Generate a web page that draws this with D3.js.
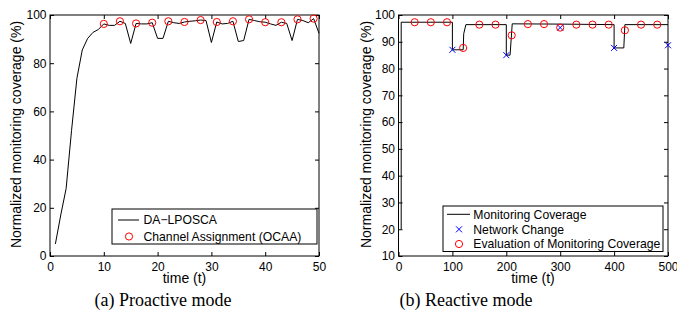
<!DOCTYPE html>
<meta charset="utf-8">
<title>Monitoring coverage</title>
<style>
body { margin: 0; background: #fff; }
svg { display: block; }
.tick text { font: 12px "Liberation Sans", Arial, sans-serif; fill: #000; }
.lbl { font: 14px "Liberation Sans", Arial, sans-serif; fill: #000; }
.leg { font: 12.2px "Liberation Sans", Arial, sans-serif; fill: #000; }
.cap { font: 18px "Liberation Serif", "Times New Roman", serif; fill: #000; }
</style>
<svg width="677" height="325"></svg>
<script src="https://cdnjs.cloudflare.com/ajax/libs/d3/7.8.5/d3.min.js"></script>
<script>

// (a) proactive mode: DA-LPOSCA curve, one value per time step 1..50
var proTime = d3.range(1, 51);
var proValue = [5, 17, 28, 52, 73.7, 85.5, 90.3, 92.8, 94, 96.3,
  95.7, 95.7, 97.4, 96.5, 88.2, 96.5, 96.3, 96.3, 96.8, 90.3,
  90.3, 97.4, 96.8, 96.5, 97.1, 97.4, 97.6, 97.9, 97.7, 88.6,
  97.1, 96.3, 96.5, 97.4, 89, 89.4, 98.2, 97.7, 97.2, 97,
  96.3, 95.7, 97, 96.5, 89.4, 98.2, 97.7, 96.8, 98.5, 92.4];
// time steps where the OCAA channel assignment is marked
var ocaaTime = [10, 13, 16, 19, 22, 25, 28, 31, 34, 37, 40, 43, 46, 49];

// (b) reactive mode
var reTime  = [5, 5, 100, 100, 120, 121, 125, 200, 200, 207, 211, 300, 400, 400, 418, 420, 500];
var reValue = [20, 97.3, 97.3, 87, 87, 93, 96.4, 96.4, 85, 85, 96.7, 96.6, 96.4, 87.7, 87.7, 96.4, 96.4];
var changeTime  = [100, 200, 300, 400, 500];
var changeValue = [87, 85, 95.3, 87.7, 88.7];
var evalTime  = [30, 60, 90, 120, 150, 180, 210, 240, 270, 300, 330, 360, 390, 420, 450, 480];
var evalValue = [97.3, 97.3, 97.3, 87.7, 96.4, 96.4, 92.4, 96.6, 96.6, 95.3, 96.4, 96.4, 96.4, 94.3, 96.4, 96.4];

var svg = d3.select("svg");
var plotTop = 15, plotBottom = 256;

// draws the box, inward ticks on all four sides and the labels
function frame(x, y, xt, yt) {
  var g = svg.append("g");
  var x0 = x.range()[0], x1 = x.range()[1];
  g.append("g").attr("transform", "translate(0," + plotBottom + ")")
    .call(d3.axisBottom(x).tickValues(xt).tickSize(-4).tickPadding(6));
  g.append("g").attr("transform", "translate(0," + plotTop + ")")
    .call(d3.axisTop(x).tickValues(xt).tickSize(-4).tickFormat(""));
  g.append("g").attr("transform", "translate(" + x0 + ",0)")
    .call(d3.axisLeft(y).tickValues(yt).tickSize(-4).tickPadding(3.5));
  g.append("g").attr("transform", "translate(" + x1 + ",0)")
    .call(d3.axisRight(y).tickValues(yt).tickSize(-4).tickFormat(""));
  g.selectAll(".domain").remove();
  g.selectAll(".tick line").attr("stroke", "#000");
  g.append("rect").attr("x", x0).attr("y", plotTop)
    .attr("width", x1 - x0).attr("height", plotBottom - plotTop)
    .attr("fill", "none").attr("stroke", "#000").attr("stroke-width", 1);
  return g;
}

function labels(cx, ylx, caption, capx) {
  svg.append("text").attr("class", "lbl").attr("x", cx).attr("y", 282.5)
    .attr("text-anchor", "middle").text("time (t)");
  svg.append("text").attr("class", "lbl")
    .attr("transform", "translate(" + ylx + ",134.5) rotate(-90)")
    .attr("text-anchor", "middle").text("Normalized monitoring coverage (%)");
  svg.append("text").attr("class", "cap").attr("x", capx).attr("y", 306)
    .attr("text-anchor", "middle").text(caption);
}

function circles(g, x, y, xs, ys) {
  g.selectAll(null).data(xs).enter().append("circle")
    .attr("cx", function(d) { return x(d); })
    .attr("cy", function(d, i) { return y(ys[i]); })
    .attr("r", 3.6).attr("fill", "none").attr("stroke", "#ff0000").attr("stroke-width", 1);
}

// ---------- (a) ----------
var xa = d3.scaleLinear().domain([0, 50]).range([50, 319]);
var ya = d3.scaleLinear().domain([0, 100]).range([plotBottom, plotTop]);
var ga = frame(xa, ya, d3.range(0, 51, 10), d3.range(0, 101, 20));
ga.append("path").datum(proTime)
  .attr("fill", "none").attr("stroke", "#000").attr("stroke-width", 1)
  .attr("d", d3.line().x(function(d) { return xa(d); }).y(function(d, i) { return ya(proValue[i]); }));
circles(ga, xa, ya, ocaaTime, ocaaTime.map(function(t) { return proValue[t - 1]; }));
labels(184.5, 20.5, "(a) Proactive mode", 163);

var la = svg.append("g");
la.append("rect").attr("x", 112).attr("y", 209).attr("width", 205).attr("height", 35)
  .attr("fill", "#fff").attr("stroke", "#000");
la.append("line").attr("x1", 118).attr("x2", 139).attr("y1", 220).attr("y2", 220).attr("stroke", "#000");
la.append("circle").attr("cx", 129).attr("cy", 236.5).attr("r", 3.6)
  .attr("fill", "none").attr("stroke", "#ff0000");
la.append("text").attr("class", "leg").attr("x", 143.5).attr("y", 224.3).text("DA\u2212LPOSCA");
la.append("text").attr("class", "leg").attr("x", 143.5).attr("y", 241).text("Channel Assignment (OCAA)");

// ---------- (b) ----------
var xb = d3.scaleLinear().domain([0, 500]).range([398.5, 668]);
var yb = d3.scaleLinear().domain([10, 100]).range([plotBottom, plotTop]);
var gb = frame(xb, yb, d3.range(0, 501, 100), d3.range(10, 101, 10));
gb.append("path").datum(reTime)
  .attr("fill", "none").attr("stroke", "#000").attr("stroke-width", 1)
  .attr("d", d3.line().x(function(d) { return xb(d); }).y(function(d, i) { return yb(reValue[i]); }));
gb.selectAll(null).data(changeTime).enter().append("path")
  .attr("transform", function(d, i) { return "translate(" + xb(d) + "," + yb(changeValue[i]) + ")"; })
  .attr("d", "M-3,-3L3,3M-3,3L3,-3").attr("stroke", "#0000ff").attr("stroke-width", 1);
circles(gb, xb, yb, evalTime, evalValue);
labels(533, 370.5, "(b) Reactive mode", 466);

var lb = svg.append("g");
lb.append("rect").attr("x", 443).attr("y", 206).attr("width", 220).attr("height", 45.5)
  .attr("fill", "#fff").attr("stroke", "#000");
lb.append("line").attr("x1", 447).attr("x2", 470).attr("y1", 214.3).attr("y2", 214.3).attr("stroke", "#000");
lb.append("path").attr("transform", "translate(459,229.3)")
  .attr("d", "M-3,-3L3,3M-3,3L3,-3").attr("stroke", "#0000ff");
lb.append("circle").attr("cx", 459).attr("cy", 244).attr("r", 3.6)
  .attr("fill", "none").attr("stroke", "#ff0000");
lb.append("text").attr("class", "leg").attr("x", 473.3).attr("y", 218.6).text("Monitoring Coverage");
lb.append("text").attr("class", "leg").attr("x", 473.3).attr("y", 233.6).text("Network Change");
lb.append("text").attr("class", "leg").attr("x", 473.3).attr("y", 248.3).text("Evaluation of Monitoring Coverage");

</script>
